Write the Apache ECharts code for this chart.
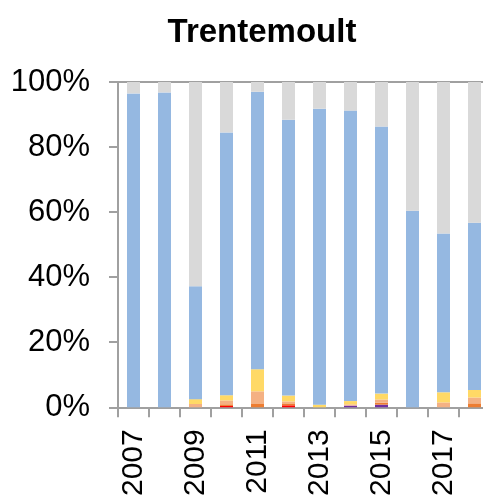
<!DOCTYPE html>
<html>
<head>
<meta charset="utf-8">
<script src="https://cdn.jsdelivr.net/npm/echarts@6/dist/echarts.min.js"></script>
<style>
  html, body { margin: 0; padding: 0; background: #fff; overflow: hidden; width: 483px; height: 499px; }
  #chart { width: 495px; height: 499px; }
</style>
</head>
<body>
<div id="chart"></div>
<script>
// years on the x axis
const years = ['2007', '2008', '2009', '2010', '2011', '2012', '2013', '2014', '2015', '2016', '2017', '2018']

// shares in %, bottom to top of each bar
const redVals    = [0, 0, 0, 0.4, 0, 0.6, 0, 0, 0, 0, 0, 0]
const purpleVals = [0, 0, 0, 0, 0, 0, 0, 0.5, 0.8, 0, 0, 0]
const orangeVals = [0, 0, 0, 0.5, 1, 0.4, 0, 0, 0.6, 0, 0, 1.2]
const salmonVals = [0, 0, 1, 1.2, 3.9, 0.8, 0, 0.4, 1, 0, 1.5, 1.8]
const yellowVals = [0, 0, 1.5, 1.6, 6.8, 1.8, 0.8, 1, 1.8, 0, 3.1, 2.3]
const blueVals   = [96.5, 96.8, 34.7, 80.8, 85.3, 84.8, 91.0, 89.3, 82.1, 60.4, 48.8, 51.4]
const greyVals   = [3.5, 3.2, 62.8, 15.5, 3, 11.6, 8.2, 8.8, 13.7, 39.6, 46.6, 43.3]

const layers = [
  { name: 'rouge', data: redVals, color: '#FF0000' },
  { name: 'violet', data: purpleVals, color: '#7030A0' },
  { name: 'orange', data: orangeVals, color: '#ED7D31' },
  { name: 'saumon', data: salmonVals, color: '#F4B183' },
  { name: 'jaune', data: yellowVals, color: '#FFD966' },
  { name: 'bleu', data: blueVals, color: '#95B8E1' },
  { name: 'gris', data: greyVals, color: '#D9D9D9' }
]

const chart = echarts.init(document.getElementById('chart'))
const font = '"Liberation Sans", Arial, sans-serif'

chart.setOption({
  animation: false,
  title: {
    text: 'Trentemoult',
    left: 257,
    textAlign: 'center',
    top: 11,
    textStyle: { fontFamily: font, fontSize: 33, fontWeight: 'bold', color: '#000' }
  },
  grid: { left: 118, top: 82, width: 372, height: 328 },
  xAxis: {
    type: 'category',
    data: years,
    axisLine: { lineStyle: { color: '#A0A0A0', width: 2 } },
    axisTick: { show: true, interval: 0, length: 10, lineStyle: { color: '#A0A0A0', width: 2 } },
    axisLabel: {
      interval: 1,
      rotate: 90,
      margin: 22,
      fontFamily: font,
      fontSize: 30,
      color: '#000'
    }
  },
  yAxis: {
    type: 'value',
    min: 0,
    max: 100,
    interval: 20,
    axisLine: { show: true, lineStyle: { color: '#A0A0A0', width: 2 } },
    axisTick: { show: true, length: 9, lineStyle: { color: '#A0A0A0', width: 2 } },
    splitLine: {
      show: true,
      lineStyle: {
        color: ['transparent', 'transparent', 'transparent', 'transparent', 'transparent', '#A0A0A0'],
        width: 2
      }
    },
    axisLabel: {
      formatter: '{value}%',
      margin: 28,
      fontFamily: font,
      fontSize: 31,
      color: '#000'
    }
  },
  series: layers.map(l => ({
    name: l.name,
    type: 'bar',
    stack: 'total',
    barWidth: 13,
    data: l.data,
    itemStyle: { color: l.color }
  }))
})
</script>
</body>
</html>
